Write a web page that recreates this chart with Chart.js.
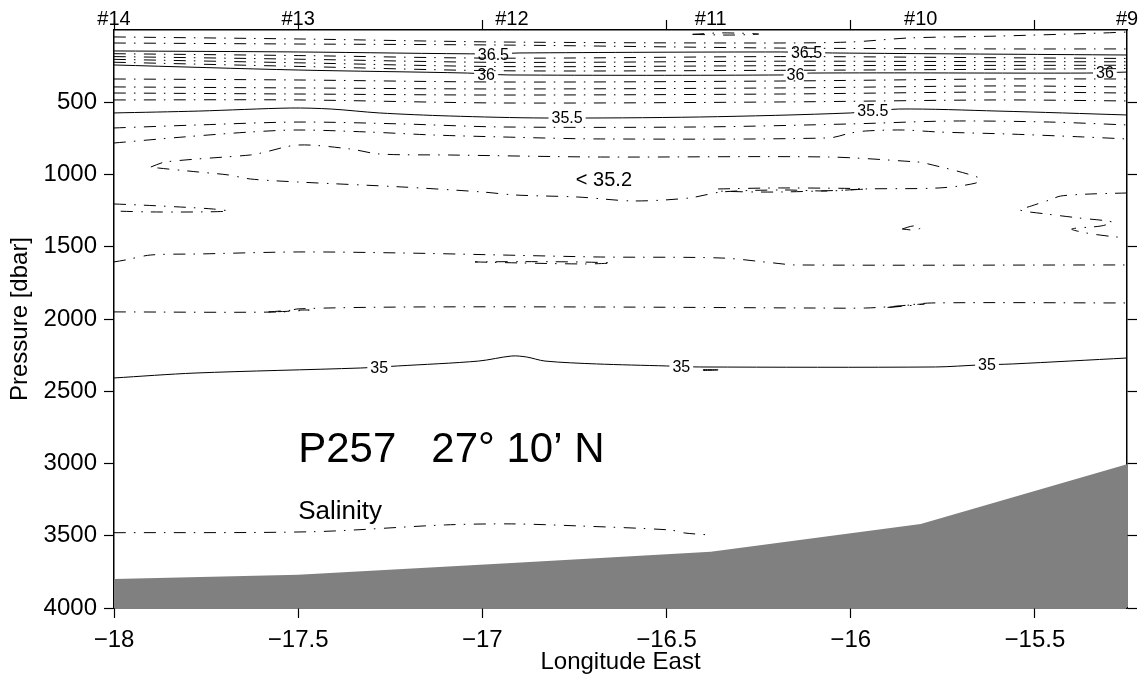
<!DOCTYPE html>
<html>
<head>
<meta charset="utf-8">
<title>P257 Salinity section</title>
<script src="https://cdn.jsdelivr.net/npm/chart.js@4.4.0/dist/chart.umd.min.js"></script>
<style>
  html, body { margin: 0; padding: 0; background: #fff; }
  #wrap { width: 1142px; height: 686px; }
</style>
</head>
<body>
<div id="wrap"><canvas id="section" width="1142" height="686"></canvas></div>
<script>
// Axis ranges and ticks
const xMin = -18, xMax = -15.25;
const yMin = 0, yMax = 4000;
const xTicks = [-18, -17.5, -17, -16.5, -16, -15.5];
const yTicks = [500, 1000, 1500, 2000, 2500, 3000, 3500, 4000];

// CTD stations along the section and bottom depth under each
const stations = ['#14', '#13', '#12', '#11', '#10', '#9'];
const stationLon = [-18, -17.5, -16.92, -16.38, -15.81, -15.25];
const bottomP = [3800, 3770, 3688, 3610, 3418, 3005];

// Salinity isolines, [longitude, pressure] pairs
const s367 = [[-18, 48], [-17.5, 62], [-16.95, 83], [-16.22, 90], [-16.0, 83], [-15.84, 55], [-15.6, 42], [-15.32, 21], [-15.25, 14]];
const s367cap = [[-16.43, 30], [-16.35, 20], [-16.25, 28], [-16.33, 35], [-16.43, 30]];
const s366 = [[-18, 90], [-17.5, 97], [-16.95, 104], [-16.19, 125], [-15.6, 131], [-15.25, 131]];
const s365 = [[-18, 145], [-17.5, 152], [-16.97, 166], [-16.9, 159], [-16.19, 152], [-16.05, 159], [-15.25, 173]];
const s364 = [[-18, 164], [-17.5, 177], [-16.95, 195], [-16.19, 184], [-15.6, 192], [-15.25, 197]];
const s363 = [[-18, 184], [-17.5, 202], [-16.95, 224], [-16.19, 216], [-15.6, 219], [-15.25, 220]];
const s362 = [[-18, 203], [-17.5, 227], [-16.95, 253], [-16.19, 247], [-15.6, 245], [-15.25, 244]];
const s361 = [[-18, 223], [-17.5, 252], [-16.95, 282], [-16.19, 279], [-15.6, 272], [-15.25, 267]];
const s360 = [[-18, 242], [-17.5, 277], [-17.04, 298], [-16.93, 311], [-16.18, 311], [-16.11, 298], [-15.36, 298], [-15.25, 291]];
const s359 = [[-18, 339], [-17.5, 346], [-16.95, 360], [-16.19, 353], [-15.6, 339], [-15.25, 339]];
const s358 = [[-18, 394], [-17.5, 401], [-16.95, 408], [-16.19, 401], [-15.6, 387], [-15.25, 394]];
const s357 = [[-18, 436], [-17.5, 443], [-16.95, 450], [-16.19, 443], [-15.6, 429], [-15.25, 436]];
const s356 = [[-18, 484], [-17.5, 484], [-16.95, 505], [-16.19, 498], [-15.6, 484], [-15.25, 491]];
const s355 = [[-18, 574], [-17.77, 561], [-17.52, 540], [-17.41, 547], [-17.28, 574], [-17.09, 595], [-16.83, 609], [-16.41, 602], [-16.0, 574], [-15.87, 547], [-15.6, 561], [-15.25, 588]];
const s354 = [[-18, 678], [-17.77, 657], [-17.5, 637], [-17.22, 650], [-16.95, 671], [-16.41, 671], [-16.0, 650], [-15.73, 630], [-15.46, 637], [-15.25, 657]];
const s353 = [[-18, 782], [-17.81, 740], [-17.63, 706], [-17.5, 692], [-17.31, 706], [-17.13, 727], [-16.95, 740], [-16.68, 754], [-16.06, 747], [-16.0, 713], [-15.96, 699], [-15.86, 692], [-15.76, 706], [-15.57, 720], [-15.37, 740], [-15.25, 754]];
// salinity minimum core (closed) plus small patches around it
const s352core = [[-17.9, 948], [-17.86, 913], [-17.63, 865], [-17.6, 851], [-17.5, 796], [-17.36, 823], [-17.28, 858], [-17.09, 865], [-16.68, 879], [-16.06, 879], [-15.82, 913], [-15.8, 920], [-15.65, 1024], [-15.66, 1059], [-15.76, 1093], [-15.96, 1100], [-16.06, 1114], [-16.19, 1107], [-16.35, 1121], [-16.44, 1163], [-16.59, 1183], [-16.74, 1156], [-16.91, 1142], [-17.0, 1121], [-17.22, 1086], [-17.5, 1052], [-17.63, 1031], [-17.69, 1003], [-17.77, 983], [-17.88, 955], [-17.9, 948]];
const s352lens = [[-16.36, 1100], [-16.19, 1093], [-15.96, 1100], [-16.19, 1121], [-16.36, 1114], [-16.36, 1100]];
const s352west = [[-18, 1204], [-17.93, 1211], [-17.82, 1225], [-17.73, 1239], [-17.69, 1253], [-17.77, 1259], [-17.9, 1259], [-18, 1253]];
const s352east = [[-15.25, 1128], [-15.35, 1135], [-15.43, 1149], [-15.46, 1176], [-15.51, 1218], [-15.54, 1246], [-15.47, 1273], [-15.38, 1301], [-15.29, 1329], [-15.32, 1356], [-15.4, 1377], [-15.36, 1405], [-15.28, 1432], [-15.25, 1432]];
const s352dot = [[-15.86, 1377], [-15.83, 1356], [-15.81, 1370], [-15.83, 1384], [-15.86, 1377]];
const s352deep = [[-18, 1605], [-17.97, 1592], [-17.9, 1557], [-17.77, 1550], [-17.5, 1536], [-17.22, 1543], [-16.95, 1557], [-16.68, 1571], [-16.35, 1578], [-16.21, 1612], [-16.15, 1626], [-15.25, 1626]];
const s352deepLens = [[-17.02, 1605], [-16.9, 1612], [-16.72, 1619], [-16.65, 1612], [-16.75, 1605], [-16.9, 1603], [-17.02, 1605]];
const s351 = [[-18, 1951], [-17.54, 1951], [-17.5, 1930], [-17.2, 1917], [-16.68, 1917], [-16.1, 1924], [-15.96, 1924], [-15.87, 1910], [-15.78, 1889], [-15.25, 1889]];
const s351a = [[-17.58, 1951], [-17.52, 1940], [-17.47, 1938], [-17.53, 1947], [-17.58, 1951]];
const s351b = [[-15.9, 1920], [-15.84, 1903], [-15.8, 1896], [-15.85, 1910], [-15.9, 1920]];
const s350 = [[-18, 2408], [-17.78, 2374], [-17.33, 2339], [-17.23, 2325], [-17.01, 2291], [-16.92, 2256], [-16.88, 2263], [-16.83, 2291], [-16.69, 2311], [-16.5, 2325], [-16.41, 2332], [-15.77, 2332], [-15.65, 2318], [-15.56, 2311], [-15.25, 2270]];
const s350bit = [[-16.4, 2350], [-16.36, 2352], [-16.4, 2356], [-16.4, 2350]];
const s349 = [[-18, 3479], [-17.46, 3472], [-17.1, 3425], [-16.92, 3418], [-16.74, 3432], [-16.49, 3460], [-16.45, 3481], [-16.38, 3495]];

const isolines = [
  [36.7, s367], [36.7, s367cap], [36.6, s366], [36.5, s365],
  [36.4, s364], [36.3, s363], [36.2, s362], [36.1, s361], [36.0, s360],
  [35.9, s359], [35.8, s358], [35.7, s357], [35.6, s356], [35.5, s355],
  [35.4, s354], [35.3, s353],
  [35.2, s352core], [35.2, s352lens], [35.2, s352west], [35.2, s352east], [35.2, s352dot],
  [35.2, s352deep], [35.2, s352deepLens],
  [35.1, s351], [35.1, s351a], [35.1, s351b],
  [35.0, s350], [35.0, s350bit], [34.9, s349]
];

// Inline labels on the solid isolines
const labelText = ['36.5', '36.5', '36', '36', '36', '35.5', '35.5', '35', '35', '35'];
const labelLevel = [36.5, 36.5, 36, 36, 36, 35.5, 35.5, 35, 35, 35];
const labelLon = [-16.97, -16.12, -16.99, -16.15, -15.31, -16.77, -15.94, -17.28, -16.46, -15.63];
const labelP = [170, 159, 311, 311, 298, 609, 561, 2339, 2332, 2318];
const coreNote = '< 35.2', coreLon = -16.67, coreP = 1038;

const titleText = 'P257   27\u00b0 10\u2019 N', titleLon = -17.5, titleP = 2990;
const subText = 'Salinity', subLon = -17.5, subP = 3385;

const FONT = "'Liberation Sans', Arial, Helvetica, sans-serif";
const dashDot = [12, 8, 1.5, 8.5];

function isHalf(level) {
    return Math.abs(level * 2 - Math.round(level * 2)) < 1e-6;
}

function fmtLon(v) {
    return (v < 0 ? '\u2212' : '') + Math.abs(v);
}

const datasets = isolines.map(([level, pts]) => ({
    data: pts.map(([x, y]) => ({ x, y })),
    level: level,
    borderColor: '#000',
    borderWidth: 1,
    borderDash: isHalf(level) ? [] : dashDot,
    pointRadius: 0,
    fill: false,
    tension: 0.3
}));

// sea floor
datasets.push({
    data: stationLon.map((x, i) => ({ x, y: bottomP[i] })),
    borderWidth: 0,
    borderColor: '#808080',
    backgroundColor: '#808080',
    pointRadius: 0,
    tension: 0,
    fill: { value: yMax }
});

function labelBoxes(chart, level) {
    const ctx = chart.ctx;
    const xs = chart.scales.x, ys = chart.scales.y;
    ctx.save();
    ctx.font = '16px ' + FONT;
    const boxes = [];
    labelText.forEach((t, i) => {
        if (Math.abs(labelLevel[i] - level) > 1e-6) return;
        const w = ctx.measureText(t).width + 6;
        const px = xs.getPixelForValue(labelLon[i]);
        const py = ys.getPixelForValue(labelP[i]);
        boxes.push({ x: px - w / 2, y: py - 7, w: w, h: 14 });
    });
    ctx.restore();
    return boxes;
}

// cut a gap into each labelled isoline, then write the labels and notes
const clipped = new Set();
const annotations = {
    id: 'annotations',
    beforeDatasetDraw(chart, args) {
        const level = chart.data.datasets[args.index].level;
        if (level === undefined) return;
        const boxes = labelBoxes(chart, level);
        if (!boxes.length) return;
        const ctx = chart.ctx;
        ctx.save();
        ctx.beginPath();
        ctx.rect(0, 0, chart.width, chart.height);
        boxes.forEach(b => ctx.rect(b.x, b.y, b.w, b.h));
        ctx.clip('evenodd');
        clipped.add(args.index);
    },
    afterDatasetDraw(chart, args) {
        if (clipped.has(args.index)) {
            chart.ctx.restore();
            clipped.delete(args.index);
        }
    },
    afterDatasetsDraw(chart) {
        const ctx = chart.ctx;
        const xs = chart.scales.x, ys = chart.scales.y;
        ctx.save();
        ctx.fillStyle = '#000';

        ctx.font = '16px ' + FONT;
        ctx.textAlign = 'center';
        ctx.textBaseline = 'middle';
        labelText.forEach((t, i) => {
            ctx.fillText(t, xs.getPixelForValue(labelLon[i]), ys.getPixelForValue(labelP[i]) + 1);
        });

        ctx.font = '20px ' + FONT;
        ctx.fillText(coreNote, xs.getPixelForValue(coreLon), ys.getPixelForValue(coreP));

        ctx.textAlign = 'left';
        ctx.textBaseline = 'alphabetic';
        ctx.font = '42px ' + FONT;
        ctx.fillText(titleText, xs.getPixelForValue(titleLon), ys.getPixelForValue(titleP));
        ctx.font = '26px ' + FONT;
        ctx.fillText(subText, xs.getPixelForValue(subLon), ys.getPixelForValue(subP));

        // station names above the frame
        ctx.textAlign = 'center';
        ctx.font = '20px ' + FONT;
        stations.forEach((s, i) => {
            ctx.fillText(s, xs.getPixelForValue(stationLon[i]), chart.chartArea.top - 5);
        });
        ctx.restore();
    }
};

const tickMarks = { drawOnChartArea: false, drawTicks: true, tickLength: 10, tickColor: '#000', tickWidth: 1.2 };
const frame = { display: true, color: '#000', width: 1.5 };

new Chart(document.getElementById('section'), {
    type: 'line',
    data: { datasets: datasets },
    options: {
        responsive: false,
        animation: false,
        events: [],
        layout: { padding: 0 },
        plugins: {
            legend: { display: false },
            tooltip: { enabled: false }
        },
        scales: {
            x: {
                type: 'linear',
                position: 'bottom',
                min: xMin,
                max: xMax,
                grid: tickMarks,
                border: frame,
                ticks: {
                    color: '#000',
                    font: { family: FONT, size: 24 },
                    padding: 8,
                    maxRotation: 0,
                    autoSkip: false,
                    callback: v => fmtLon(v)
                },
                title: {
                    display: true,
                    text: 'Longitude East',
                    color: '#000',
                    font: { family: FONT, size: 24 },
                    padding: { top: 0, bottom: 9 }
                },
                afterBuildTicks: s => { s.ticks = xTicks.map(v => ({ value: v })); },
                afterFit: s => { s.height = 78; }
            },
            xTop: {
                type: 'linear',
                position: 'top',
                min: xMin,
                max: xMax,
                grid: tickMarks,
                border: frame,
                ticks: { display: false },
                afterBuildTicks: s => { s.ticks = xTicks.map(v => ({ value: v })); },
                afterFit: s => { s.height = 30; }
            },
            y: {
                type: 'linear',
                position: 'left',
                reverse: true,
                min: yMin,
                max: yMax,
                grid: tickMarks,
                border: frame,
                ticks: {
                    color: '#000',
                    font: { family: FONT, size: 24 },
                    padding: 7,
                    callback: v => String(v)
                },
                title: {
                    display: true,
                    text: 'Pressure [dbar]',
                    color: '#000',
                    font: { family: FONT, size: 24 },
                    padding: { top: 6, bottom: 0 }
                },
                afterBuildTicks: s => { s.ticks = yTicks.map(v => ({ value: v })); },
                afterFit: s => { s.width = 114; }
            },
            yRight: {
                type: 'linear',
                position: 'right',
                reverse: true,
                min: yMin,
                max: yMax,
                grid: tickMarks,
                border: frame,
                ticks: { display: false },
                afterBuildTicks: s => { s.ticks = yTicks.map(v => ({ value: v })); },
                afterFit: s => { s.width = 15; }
            }
        }
    },
    plugins: [annotations]
});
</script>
</body>
</html>
